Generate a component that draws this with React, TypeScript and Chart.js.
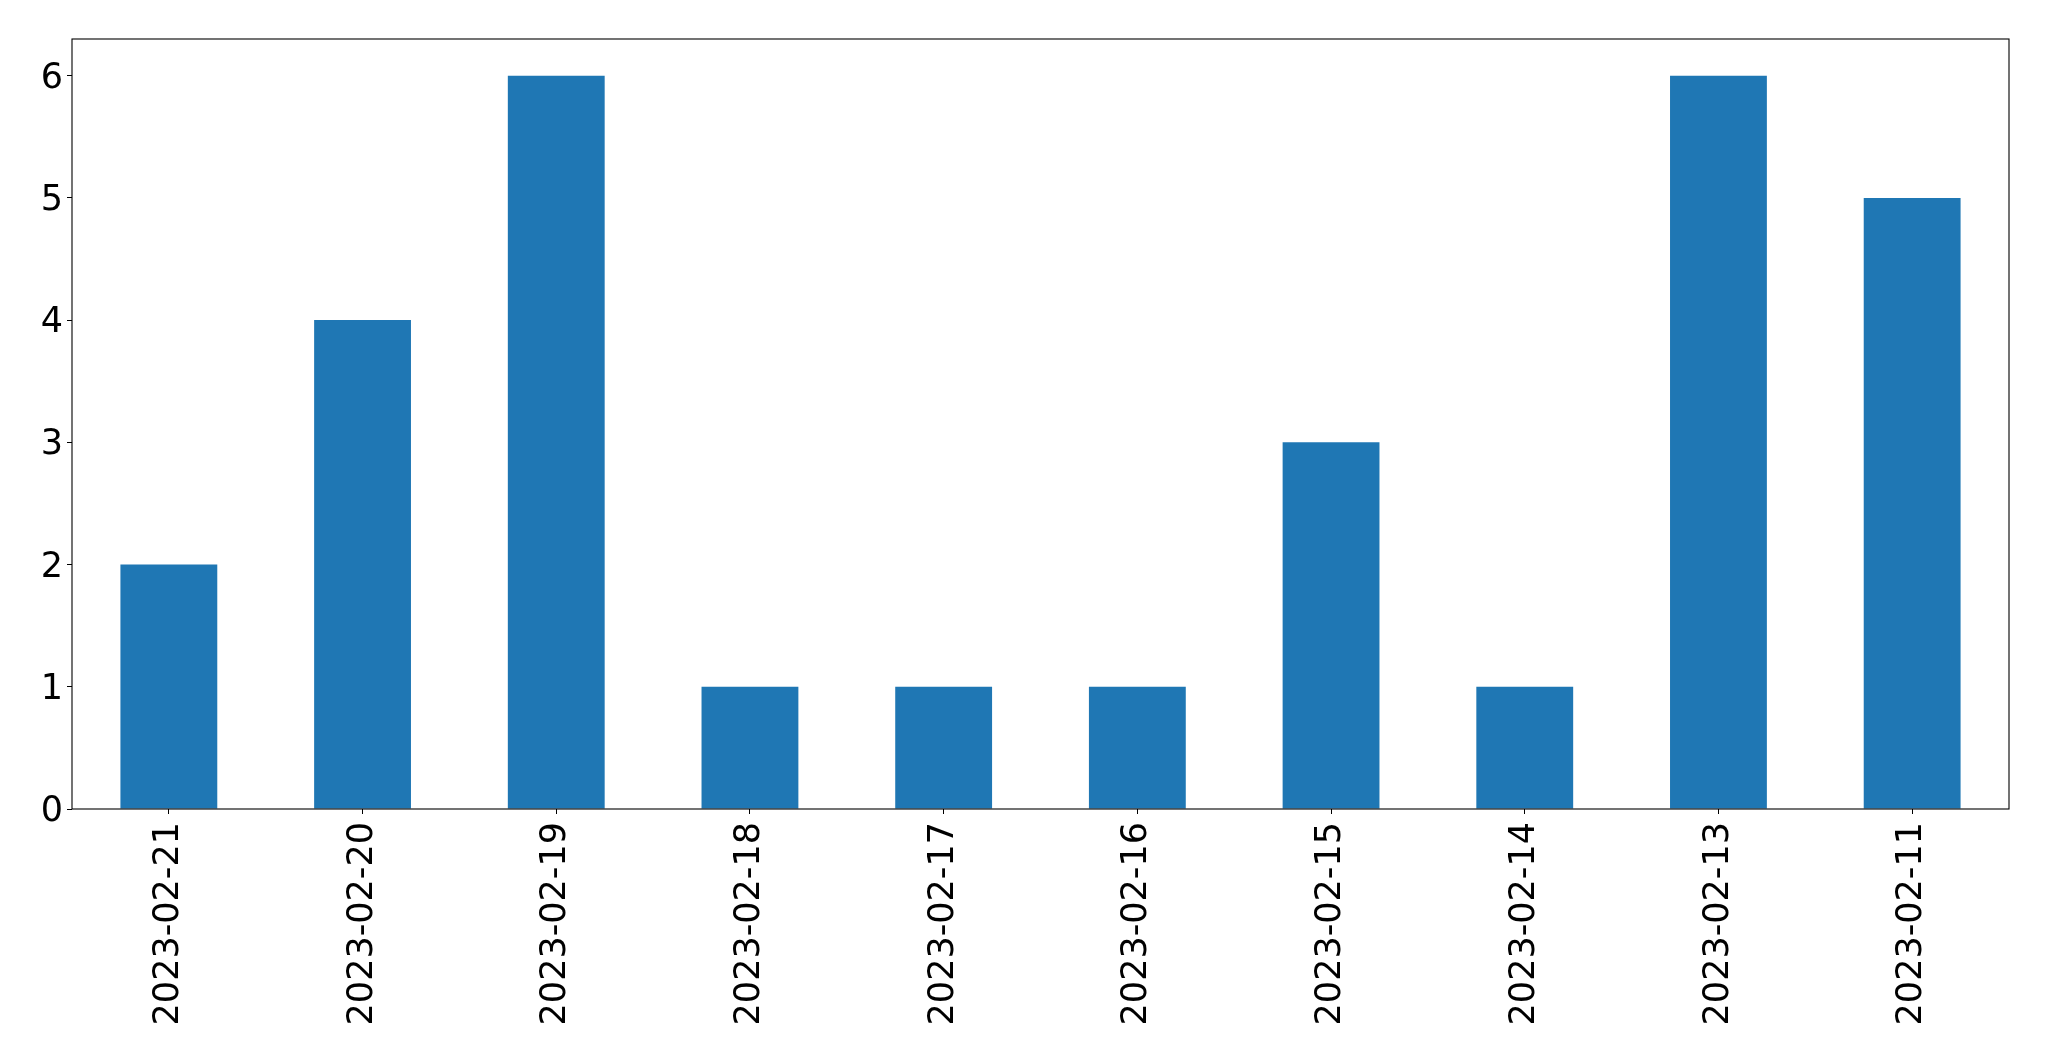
import React, { useEffect, useRef } from "react";
import { Chart, registerables } from "chart.js";

Chart.register(...registerables);

const CATEGORIES = [
  "2023-02-21",
  "2023-02-20",
  "2023-02-19",
  "2023-02-18",
  "2023-02-17",
  "2023-02-16",
  "2023-02-15",
  "2023-02-14",
  "2023-02-13",
  "2023-02-11",
];
const VALUES = [2, 4, 6, 1, 1, 1, 3, 1, 6, 5];
const Y_TICKS = [0, 1, 2, 3, 4, 5, 6];
const Y_MAX = 6.3;

const W = 2049;
const H = 1061;

const framePlugin = {
  id: "frame",
  afterDraw(chart: any) {
    const { ctx, chartArea } = chart;
    ctx.save();
    ctx.strokeStyle = "#000";
    ctx.lineWidth = 1.1;
    ctx.strokeRect(chartArea.left, chartArea.top, chartArea.right - chartArea.left, chartArea.bottom - chartArea.top);
    ctx.restore();
  },
};

export default function App() {
  const ref = useRef<HTMLCanvasElement | null>(null);
  useEffect(() => {
    if (!ref.current) return;
    const font = { family: "'DejaVu Sans', sans-serif", size: 35 };
    const chart = new Chart(ref.current, {
      type: "bar",
      data: {
        labels: CATEGORIES,
        datasets: [
          {
            data: VALUES,
            backgroundColor: "#1f77b4",
            borderWidth: 0,
            categoryPercentage: 1,
            barPercentage: 0.5,
          },
        ],
      },
      plugins: [framePlugin],
      options: {
        responsive: false,
        animation: false,
        devicePixelRatio: 1,
        layout: { padding: { top: 39, right: 40, left: 0, bottom: 0 } },
        plugins: { legend: { display: false }, tooltip: { enabled: false } },
        scales: {
          x: {
            offset: true,
            grid: { display: true, offset: false, drawOnChartArea: false, drawTicks: true, tickLength: 5, color: "#000", lineWidth: 1 },
            border: { display: false },
            ticks: { font, color: "#000", minRotation: 90, maxRotation: 90, padding: 8, autoSkip: false },
            afterFit: (scale: any) => {
              scale.height = H - 809;
            },
          },
          y: {
            min: 0,
            max: Y_MAX,
            grid: { display: true, drawOnChartArea: false, drawTicks: true, tickLength: 5, color: "#000", lineWidth: 1 },
            border: { display: false },
            ticks: { font, color: "#000", padding: 4, labelOffset: 3 },
            afterBuildTicks: (scale: any) => {
              scale.ticks = Y_TICKS.map((v) => ({ value: v }));
            },
            afterFit: (scale: any) => {
              scale.width = 72;
            },
          },
        },
      },
    });
    return () => chart.destroy();
  }, []);
  return (
    <div style={{ position: "fixed", left: 0, top: 0, width: W, height: H, background: "#fff" }}>
      <canvas ref={ref} width={W} height={H} style={{ width: W, height: H, display: "block" }} />
    </div>
  );
}
